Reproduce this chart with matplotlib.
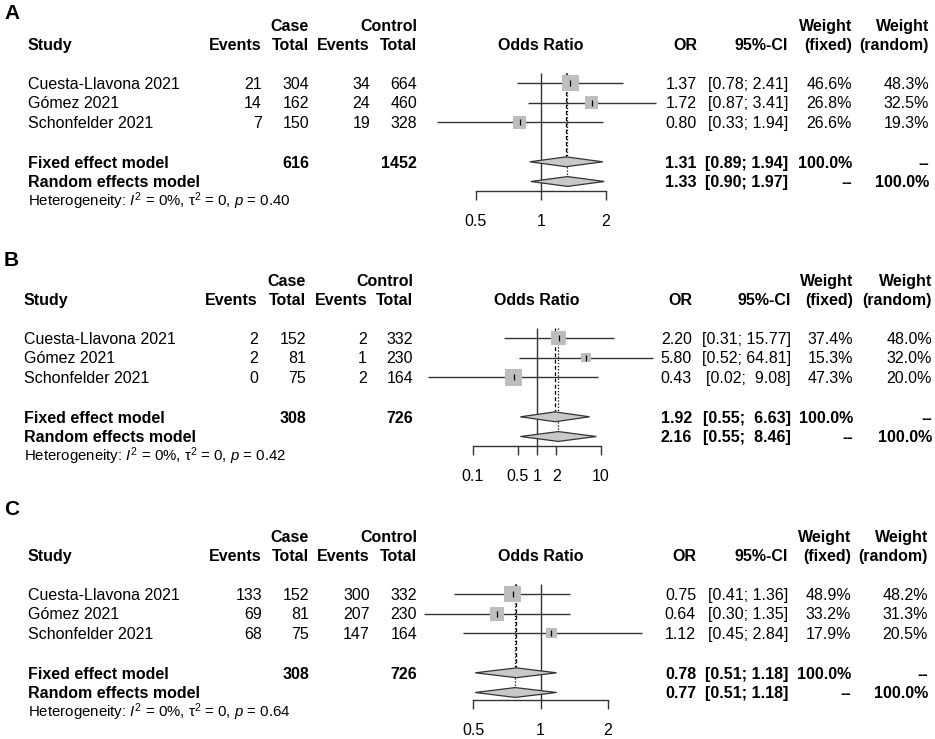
import matplotlib
matplotlib.use('Agg')
import matplotlib.pyplot as plt
from matplotlib.transforms import Affine2D
from matplotlib.ticker import FixedLocator, FixedFormatter, NullLocator
import numpy as np

plt.rcParams['font.family'] = ['Liberation Sans', 'DejaVu Sans']
plt.rcParams['font.size'] = 11.5
plt.rcParams['mathtext.fontset'] = 'custom'
plt.rcParams['mathtext.rm'] = 'Liberation Sans'
plt.rcParams['mathtext.it'] = 'Liberation Sans:italic'

# data
studies = ['Cuesta-Llavona 2021', 'Gómez 2021', 'Schonfelder 2021']

case_events_a = [21, 14, 7]
case_total_a = [304, 162, 150]
ctrl_events_a = [34, 24, 19]
ctrl_total_a = [664, 460, 328]
or_a = [1.37, 1.72, 0.80]
lo_a = [0.78, 0.87, 0.33]
hi_a = [2.41, 3.41, 1.94]
wfix_a = [46.6, 26.8, 26.6]
wran_a = [48.3, 32.5, 19.3]
fixed_a = [1.31, 0.89, 1.94]
random_a = [1.33, 0.90, 1.97]
totals_a = [616, 1452]
pval_a = '0.40'
ticks_a = [0.5, 1, 2]

case_events_b = [2, 2, 0]
case_total_b = [152, 81, 75]
ctrl_events_b = [2, 1, 2]
ctrl_total_b = [332, 230, 164]
or_b = [2.20, 5.80, 0.43]
lo_b = [0.31, 0.52, 0.02]
hi_b = [15.77, 64.81, 9.08]
wfix_b = [37.4, 15.3, 47.3]
wran_b = [48.0, 32.0, 20.0]
fixed_b = [1.92, 0.55, 6.63]
random_b = [2.16, 0.55, 8.46]
totals_b = [308, 726]
pval_b = '0.42'
ticks_b = [0.1, 0.5, 1, 2, 10]

case_events_c = [133, 69, 68]
case_total_c = [152, 81, 75]
ctrl_events_c = [300, 207, 147]
ctrl_total_c = [332, 230, 164]
or_c = [0.75, 0.64, 1.12]
lo_c = [0.41, 0.30, 0.45]
hi_c = [1.36, 1.35, 2.84]
wfix_c = [48.9, 33.2, 17.9]
wran_c = [48.2, 31.3, 20.5]
fixed_c = [0.78, 0.51, 1.18]
random_c = [0.77, 0.51, 1.18]
totals_c = [308, 726]
pval_c = '0.64'
ticks_c = [0.5, 1, 2]

panels = [
    dict(label='A', ce=case_events_a, ct=case_total_a, ke=ctrl_events_a, kt=ctrl_total_a,
         est=or_a, lo=lo_a, hi=hi_a, wf=wfix_a, wr=wran_a, fix=fixed_a, ran=random_a,
         tot=totals_a, p=pval_a, ticks=ticks_a,
         row0=83, label_y=12, axis_y=191, sx=28, cols=[262, 309, 370, 417],
         orx=697, cix=788, wfx=852, wrx=929, tpx=(475.7, 605.7)),
    dict(label='B', ce=case_events_b, ct=case_total_b, ke=ctrl_events_b, kt=ctrl_total_b,
         est=or_b, lo=lo_b, hi=hi_b, wf=wfix_b, wr=wran_b, fix=fixed_b, ran=random_b,
         tot=totals_b, p=pval_b, ticks=ticks_b,
         row0=338, label_y=259, axis_y=446, sx=24, cols=[258, 306, 367, 413],
         orx=692, cix=791, wfx=853, wrx=932, tpx=(473, 601)),
    dict(label='C', ce=case_events_c, ct=case_total_c, ke=ctrl_events_c, kt=ctrl_total_c,
         est=or_c, lo=lo_c, hi=hi_c, wf=wfix_c, wr=wran_c, fix=fixed_c, ran=random_c,
         tot=totals_c, p=pval_c, ticks=ticks_c,
         row0=594, label_y=508, axis_y=700, sx=28, cols=[262, 309, 370, 417],
         orx=696, cix=788, wfx=851, wrx=928, tpx=(473.3, 607.7)),
]

W, H = 935, 739
fig = plt.figure(figsize=(W / 100, H / 100), dpi=100)
px = Affine2D().scale(1 / W, -1 / H).translate(0, 1) + fig.transFigure
RH = 19.7
FS = 11.5
LINE = '#333333'


def put(x, y, s, ha='right', bold=False, size=FS):
    # y is the visual middle of the capitals
    base = y + 0.358 * size / 0.72
    fig.text(x, base, s, ha=ha, va='baseline', transform=px, fontsize=size,
             fontweight='bold' if bold else 'normal')


for p in panels:
    r0 = p['row0']
    cols = p['cols']
    put(4, p['label_y'], p['label'], ha='left', bold=True, size=15)

    # header
    h1, h2 = r0 - 58, r0 - 39
    put(cols[1], h1, 'Case', bold=True)
    put(cols[3], h1, 'Control', bold=True)
    put(p['wfx'], h1, 'Weight', bold=True)
    put(p['wrx'], h1, 'Weight', bold=True)
    put(p['sx'], h2, 'Study', ha='left', bold=True)
    for x, s in zip(cols, ['Events', 'Total', 'Events', 'Total']):
        put(x, h2, s, bold=True)
    put((p['tpx'][0] + p['tpx'][1]) / 2, h2, 'Odds Ratio', ha='center', bold=True)
    put(p['orx'], h2, 'OR', bold=True)
    put(p['cix'], h2, '95%-CI', bold=True)
    put(p['wfx'], h2, '(fixed)', bold=True)
    put(p['wrx'], h2, '(random)', bold=True)

    # CI strings, padded like R does
    lows = p['lo'] + [p['fix'][1], p['ran'][1]]
    highs = p['hi'] + [p['fix'][2], p['ran'][2]]
    lw_ = max(len('%.2f' % v) for v in lows)
    hw_ = max(len('%.2f' % v) for v in highs)

    def ci(l, h):
        return '[%s; %s]' % (('%.2f' % l).rjust(lw_), ('%.2f' % h).rjust(hw_))

    for i, name in enumerate(studies):
        y = r0 + i * RH
        put(p['sx'], y, name, ha='left')
        for x, v in zip(cols, [p['ce'][i], p['ct'][i], p['ke'][i], p['kt'][i]]):
            put(x, y, str(v))
        put(p['orx'], y, '%.2f' % p['est'][i])
        put(p['cix'], y, ci(p['lo'][i], p['hi'][i]))
        put(p['wfx'], y, '%.1f%%' % p['wf'][i])
        put(p['wrx'], y, '%.1f%%' % p['wr'][i])

    yf, yr = r0 + 4 * RH, r0 + 5 * RH
    put(p['sx'], yf, 'Fixed effect model', ha='left', bold=True)
    put(cols[1], yf, str(p['tot'][0]), bold=True)
    put(cols[3], yf, str(p['tot'][1]), bold=True)
    put(p['orx'], yf, '%.2f' % p['fix'][0], bold=True)
    put(p['cix'], yf, ci(p['fix'][1], p['fix'][2]), bold=True)
    put(p['wfx'], yf, '100.0%', bold=True)
    put(p['wrx'], yf, '--', bold=True)
    put(p['sx'], yr, 'Random effects model', ha='left', bold=True)
    put(p['orx'], yr, '%.2f' % p['ran'][0], bold=True)
    put(p['cix'], yr, ci(p['ran'][1], p['ran'][2]), bold=True)
    put(p['wfx'], yr, '--', bold=True)
    put(p['wrx'], yr, '100.0%', bold=True)
    put(p['sx'], r0 + 5.95 * RH,
        'Heterogeneity: $\\mathit{I}^2$ = 0%, τ$^2$ = 0, $\\mathit{p}$ = ' + p['p'],
        ha='left', size=10.8)

    # forest panel
    x0, x1 = p['tpx']
    ytop = -0.6
    ybot = (p['axis_y'] - r0) / RH
    top_px = r0 + ytop * RH
    ax = fig.add_axes([x0 / W, 1 - p['axis_y'] / H, (x1 - x0) / W, (p['axis_y'] - top_px) / H])
    ax.set_xscale('log')
    ax.set_xlim(p['ticks'][0], p['ticks'][-1])
    ax.set_ylim(ybot, ytop)
    ax.patch.set_visible(False)
    for s in ['top', 'left', 'right']:
        ax.spines[s].set_visible(False)
    ax.spines['bottom'].set_color(LINE)
    ax.spines['bottom'].set_linewidth(1)
    ax.set_yticks([])
    ax.xaxis.set_major_locator(FixedLocator(p['ticks']))
    ax.xaxis.set_major_formatter(FixedFormatter([('%g' % t) for t in p['ticks']]))
    ax.xaxis.set_minor_locator(NullLocator())
    ax.tick_params(axis='x', direction='out', length=6.5, width=1, color=LINE,
                   pad=10, labelsize=FS)

    dh = 0.25
    ax.vlines(1, -0.5, ybot, color=LINE, lw=1, zorder=1)
    ax.vlines(p['fix'][0], -0.5, 4 - dh, color='black', lw=0.9, linestyles=(0, (3, 2)), zorder=1)
    ax.vlines(p['ran'][0], -0.5, 5 - dh, color='black', lw=0.9, linestyles=(0, (1, 1.5)), zorder=1)

    rows = np.arange(len(studies))
    ax.hlines(rows, p['lo'], p['hi'], color=LINE, lw=1, clip_on=False, zorder=2)
    wf = np.array(p['wf'])
    side = 16.7 * 0.72 * np.sqrt(wf / wf.max())
    ax.scatter(p['est'], rows, s=side ** 2, marker='s', color='#bdbdbd',
               edgecolors='none', clip_on=False, zorder=3)
    ax.plot(p['est'], rows, ls='none', marker='|', ms=4, mew=0.9, color='black',
            clip_on=False, zorder=4)
    for yy, vals in [(4, p['fix']), (5, p['ran'])]:
        ax.fill([vals[1], vals[0], vals[2], vals[0]], [yy, yy - dh, yy, yy + dh],
                facecolor='#c8c8c8', edgecolor=LINE, lw=0.9, clip_on=False, zorder=5)

fig.savefig('out.png', dpi=100)
